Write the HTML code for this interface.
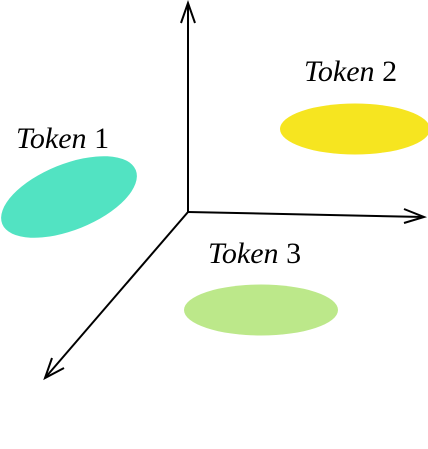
<!DOCTYPE html>
<html><head><style>html,body{margin:0;padding:0;background:#fff}</style></head><body>
<svg width="428" height="444" viewBox="0 0 428 444" xmlns="http://www.w3.org/2000/svg">
<ellipse cx="69" cy="197" rx="72" ry="33" fill="#52e3c2" transform="rotate(-22 69 197)"/>
<ellipse cx="355" cy="129" rx="75" ry="25.5" fill="#f6e520"/>
<ellipse cx="261" cy="310" rx="77" ry="25.5" fill="#bce88a"/>
<g stroke="#000" stroke-width="2" fill="none">
<line x1="188" y1="212" x2="188" y2="4"/>
<polyline points="181,23 188,3 195,23"/>
<line x1="188" y1="212" x2="424" y2="217"/>
<polyline points="404,209 424,217 404,223"/>
<line x1="188" y1="212" x2="45" y2="378"/>
<polyline points="52,358 45,378 64,368"/>
</g>
<g font-family="Liberation Serif, serif" font-size="30" fill="#000">
<text x="16" y="148"><tspan font-style="italic">Token</tspan> 1</text>
<text x="304" y="81"><tspan font-style="italic">Token</tspan> 2</text>
<text x="208" y="263"><tspan font-style="italic">Token</tspan> 3</text>
</g>
</svg>
</body></html>
